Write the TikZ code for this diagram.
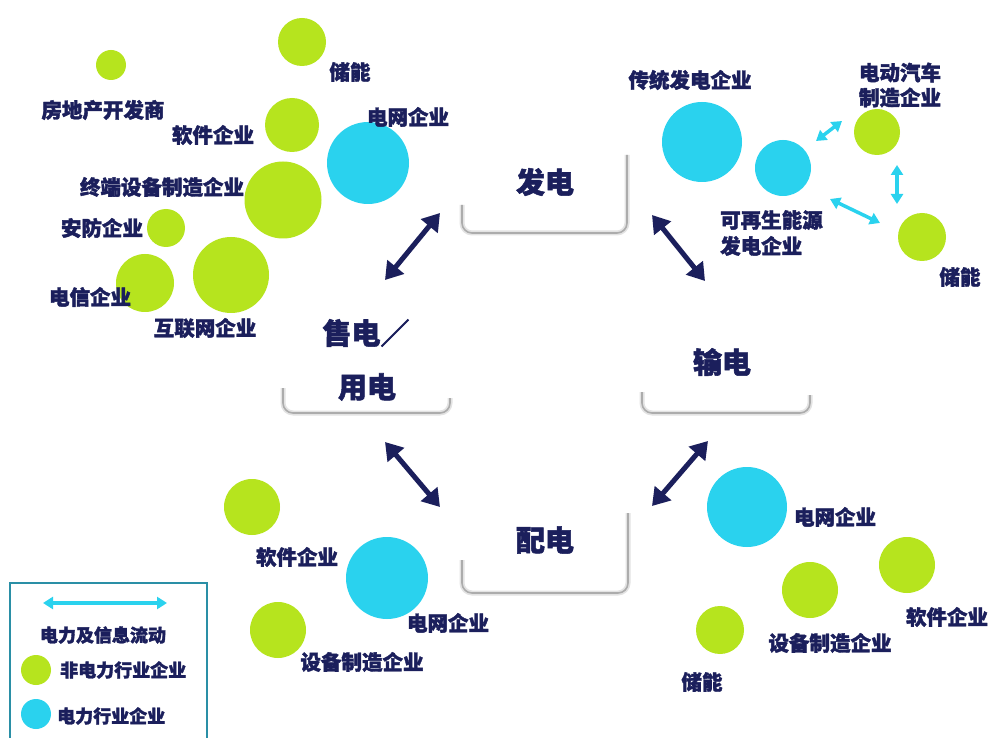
\documentclass[tikz,border=0pt]{standalone}
\usepackage{fontspec}
\newfontfamily\cjk{Noto Sans CJK SC}[BoldFeatures={FakeBold=1.8}]
\usetikzlibrary{arrows.meta}
\definecolor{ngreen}{HTML}{B6E41E}
\definecolor{ncyan}{HTML}{2AD2EE}
\definecolor{navy}{HTML}{1B1F5C}
\definecolor{legteal}{HTML}{2A8FA6}
\begin{document}
\begin{tikzpicture}[x=1pt,y=-1pt,
 gdot/.style={circle,fill=ngreen,inner sep=0,minimum size=#1},
 cdot/.style={circle,fill=ncyan,inner sep=0,minimum size=#1},
 lab/.style={font=\cjk\bfseries\fontsize{20.5}{24}\selectfont,text=navy,inner sep=0},
 big/.style={font=\cjk\bfseries\fontsize{29}{36}\selectfont,text=navy,inner sep=0},
 leg/.style={font=\cjk\bfseries\fontsize{18}{22}\selectfont,text=navy,inner sep=0},
 flow/.style={navy,line width=5pt,{Triangle[width=21pt,length=17pt]}-{Triangle[width=21pt,length=17pt]}},
 info/.style={ncyan,line width=3.5pt,{Triangle[width=12pt,length=10pt]}-{Triangle[width=12pt,length=10pt]}},
 shadowsoft/.style={gray!22,line width=5pt,rounded corners=10pt},
 shadowhard/.style={gray!65,line width=1.6pt,rounded corners=10pt},
]
\useasboundingbox (0,0) rectangle (989,738);
\fill[white] (0,0) rectangle (989,738);

% ---- stage boxes (bottom shadows)
\foreach \s in {shadowsoft,shadowhard}{
  \draw[\s] (462,205) -- (462,233) -- (627,233) -- (627,155);
  \draw[\s] (283,388) -- (283,413) -- (450,413) -- (450,398);
  \draw[\s] (642,392) -- (642,413) -- (810,413) -- (810,395);
  \draw[\s] (462,560) -- (462,593) -- (628,593) -- (628,513);
}
\node[big] (fa) at (545,182) {发电};
\node[big] (shou) at (366,333) {售电／};
\node[big] (yong) at (367,387) {用电};
\node[big] (shu) at (722,362) {输电};
\node[big] (pei) at (545,540) {配电};

% ---- flow arrows
\coordinate (a1) at (385,280); \coordinate (a2) at (440,213);
\coordinate (b1) at (652,215); \coordinate (b2) at (705,281);
\coordinate (c1) at (385,442); \coordinate (c2) at (440,507);
\coordinate (d1) at (708,441); \coordinate (d2) at (652,506);
\draw[flow] (a1) -- (a2);
\draw[flow] (b1) -- (b2);
\draw[flow] (c1) -- (c2);
\draw[flow] (d1) -- (d2);

% ---- top-left cluster
\node[gdot=48pt] (tlcn) at (302,42) {};
\node[gdot=30pt] (tlre) at (111,65) {};
\node[gdot=54pt] (tlsw) at (292,125) {};
\node[cdot=82pt] (tlgrid) at (368,163) {};
\node[gdot=77pt] (tlterm) at (283,200) {};
\node[gdot=38pt] (tlsec) at (166,228) {};
\node[gdot=58pt] (tltel) at (145,283) {};
\node[gdot=76pt] (tlnet) at (231,275) {};
\node[lab] (l1) at (350,72) {储能};
\node[lab] (l2) at (103,110) {房地产开发商};
\node[lab] (l3) at (213,135) {软件企业};
\node[lab] (l4) at (408,117) {电网企业};
\node[lab] (l5) at (162,187) {终端设备制造企业};
\node[lab] (l6) at (102,228) {安防企业};
\node[lab] (l7) at (90,297) {电信企业};
\node[lab] (l8) at (205,328) {互联网企业};

% ---- top-right cluster
\node[cdot=80pt] (trtrad) at (702,142) {};
\node[cdot=56pt] (trren) at (783,168) {};
\node[gdot=46pt] (trev) at (877,132) {};
\node[gdot=48pt] (trst) at (922,237) {};
\node[lab] (r1) at (690,80) {传统发电企业};
\node[lab,align=left,anchor=north west,font=\cjk\bfseries\fontsize{20.5}{26}\selectfont] (r2) at (720,210) {可再生能源\\发电企业};
\node[lab,align=left,font=\cjk\bfseries\fontsize{20.5}{25}\selectfont] (r3) at (900,85) {电动汽车\\制造企业};
\node[lab] (r4) at (960,277) {储能};
\coordinate (e1) at (816,141); \coordinate (e2) at (842,121);
\coordinate (f1) at (897,165); \coordinate (f2) at (897,204);
\coordinate (g1) at (830,199); \coordinate (g2) at (880,223);
\draw[info] (e1) -- (e2);
\draw[info] (f1) -- (f2);
\draw[info] (g1) -- (g2);

% ---- bottom-left cluster
\node[gdot=56pt] (blsw) at (252,507) {};
\node[cdot=82pt] (blgrid) at (387,578) {};
\node[gdot=56pt] (bleq) at (278,630) {};
\node[lab] (b1l) at (297,557) {软件企业};
\node[lab] (b2l) at (448,623) {电网企业};
\node[lab] (b3l) at (362,662) {设备制造企业};

% ---- bottom-right cluster
\node[cdot=80pt] (brgrid) at (747,507) {};
\node[gdot=56pt] (brsw) at (907,565) {};
\node[gdot=56pt] (breq) at (810,590) {};
\node[gdot=48pt] (brst) at (720,630) {};
\node[lab] (br1) at (835,517) {电网企业};
\node[lab] (br2) at (947,617) {软件企业};
\node[lab] (br3) at (830,643) {设备制造企业};
\node[lab] (br4) at (702,682) {储能};

% ---- legend
\draw[legteal,line width=1.5pt] (10,745) -- (10,583) -- (207,583) -- (207,745);
\coordinate (lg1) at (43,603); \coordinate (lg2) at (167,603);
\draw[info,line width=4pt] (lg1) -- (lg2);
\node[leg] (lgt) at (103,635) {电力及信息流动};
\node[gdot=30pt] (lgg) at (36,670) {};
\node[leg,anchor=west] (lggt) at (60,670) {非电力行业企业};
\node[cdot=30pt] (lgc) at (36,714) {};
\node[leg,anchor=west] (lgct) at (57,716) {电力行业企业};
\end{tikzpicture}
\end{document}
